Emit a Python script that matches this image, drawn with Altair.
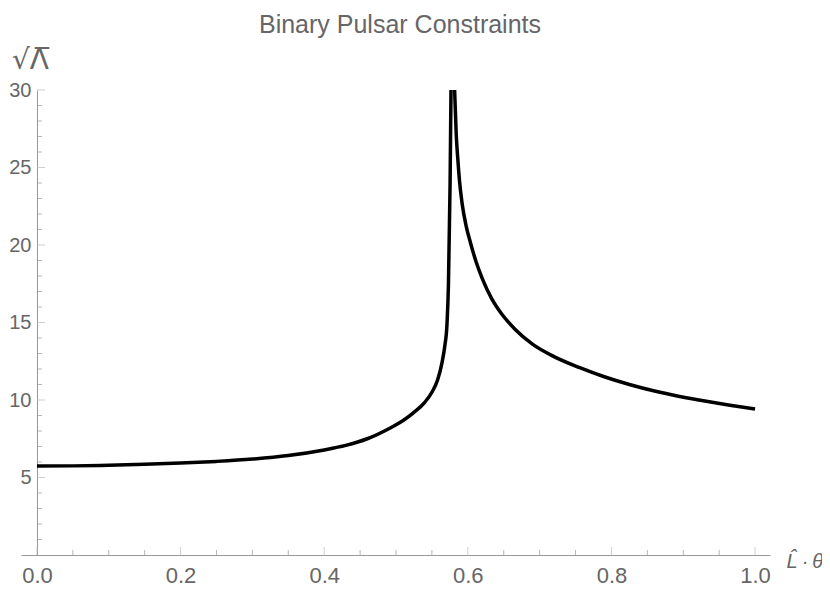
import altair as alt
import pandas as pd

# ---- data ----
x_left = [0.00, 0.05, 0.10, 0.15, 0.20, 0.25, 0.30, 0.35, 0.40, 0.43, 0.46, 0.49,
          0.51, 0.525, 0.54, 0.55, 0.558, 0.564, 0.568, 0.571, 0.573, 0.5753, 0.5766]
y_left = [5.74, 5.75, 5.79, 5.85, 5.93, 6.04, 6.19, 6.42, 6.78, 7.07, 7.50, 8.15,
          8.68, 9.20, 9.85, 10.5, 11.3, 12.4, 13.5, 14.9, 17.4, 23.9, 30.0]
x_right = [0.5816, 0.5839, 0.586, 0.5885, 0.592, 0.5978, 0.604, 0.6116, 0.62, 0.633,
           0.648, 0.665, 0.69, 0.72, 0.755, 0.79, 0.825, 0.86, 0.895, 0.93, 0.965, 1.0]
y_right = [30.0, 27.1, 25.6, 24.1, 22.7, 21.2, 20.1, 18.9, 17.85, 16.56,
           15.5, 14.6, 13.6, 12.8, 12.1, 11.5, 11.0, 10.58, 10.23, 9.93, 9.66, 9.42]

x_major = [0.0, 0.2, 0.4, 0.6, 0.8, 1.0]
x_minor = [0.05, 0.10, 0.15, 0.25, 0.30, 0.35, 0.45, 0.50, 0.55, 0.65, 0.70, 0.75,
           0.85, 0.90, 0.95]
y_major = [5, 10, 15, 20, 25, 30]
y_minor = [1, 2, 3, 4, 6, 7, 8, 9, 11, 12, 13, 14, 16, 17, 18, 19, 21, 22, 23, 24,
           26, 27, 28, 29]

curve = pd.DataFrame({
    "x": x_left + x_right,
    "y": y_left + y_right,
    "branch": ["left"] * len(x_left) + ["right"] * len(x_right),
})
xt = pd.DataFrame({"x": x_major + x_minor,
                   "kind": ["major"] * len(x_major) + ["minor"] * len(x_minor),
                   "y": 0.0})
yt = pd.DataFrame({"y": y_major + y_minor,
                   "kind": ["major"] * len(y_major) + ["minor"] * len(y_minor),
                   "x": 0.0})

FONT = "Liberation Sans"
LABEL = "#666666"
AXIS = "#999999"

xscale = alt.Scale(domain=[-0.0222, 1.0208], nice=False, zero=False)
yscale = alt.Scale(domain=[0, 30], nice=False, zero=False)

x_axis = alt.Axis(
    values=x_major, format=".1f", ticks=False, grid=False,
    domainColor=AXIS, labelColor=LABEL, labelFont=FONT, labelFontSize=22,
    labelPadding=10, labelFlush=False, labelOverlap=False,
    title="L\u0302\u2009\u00b7\u2009\u03b8", titleFont=FONT, titleFontSize=20,
    titleFontStyle="italic", titleFontWeight="normal", titleColor=LABEL,
    titleAlign="left", titleBaseline="alphabetic", titleX=765, titleY=12,
)
y_axis = alt.Axis(
    values=y_major, ticks=False, grid=False, offset=-16,
    domainColor=AXIS, labelColor=LABEL, labelFont=FONT, labelFontSize=20,
    labelPadding=6, labelFlush=False, labelOverlap=False,
    title="\u221a\u039b\u0305", titleFont="DejaVu Sans", titleFontSize=28,
    titleFontWeight="normal", titleColor=LABEL, titleAngle=0,
    titleAlign="center", titleBaseline="alphabetic", titleX=-7, titleY=-22,
)

X = alt.X("x:Q", scale=xscale, axis=x_axis)
Y = alt.Y("y:Q", scale=yscale, axis=y_axis)

line = alt.Chart(curve).mark_line(
    color="black", strokeWidth=3.5, interpolate="monotone", clip=True
).encode(x=X, y=Y, detail="branch:N")

xmaj = alt.Chart(xt).transform_filter(alt.datum.kind == "major").mark_tick(
    orient="vertical", size=8, thickness=1, color="#bbbbbb", yOffset=-4
).encode(x=X, y=Y)

xmin = alt.Chart(xt).transform_filter(alt.datum.kind == "minor").mark_tick(
    orient="vertical", size=5, thickness=1, color=AXIS, yOffset=-2.5
).encode(x=X, y=Y)

ymaj = alt.Chart(yt).transform_filter(alt.datum.kind == "major").mark_tick(
    orient="horizontal", size=8, thickness=1, color="#bbbbbb", xOffset=4
).encode(x=X, y=Y)

ymin = alt.Chart(yt).transform_filter(alt.datum.kind == "minor").mark_tick(
    orient="horizontal", size=5, thickness=1, color=AXIS, xOffset=2.5
).encode(x=X, y=Y)

chart = alt.layer(line, xmin, xmaj, ymin, ymaj).properties(
    width=749, height=465,
    autosize=alt.AutoSizeParams(type="none"),
    padding={"left": 13, "top": 82, "right": 52, "bottom": 32},
    title=alt.TitleParams(
        "Binary Pulsar Constraints", font=FONT, fontSize=25, fontWeight="normal",
        color=LABEL, frame="group", anchor="middle", baseline="alphabetic",
        offset=-12, dx=4.5,
    ),
).configure_view(strokeWidth=0).configure_axis(domainWidth=1)

chart.save("out.html", embed_options={"renderer": "svg", "actions": False})
